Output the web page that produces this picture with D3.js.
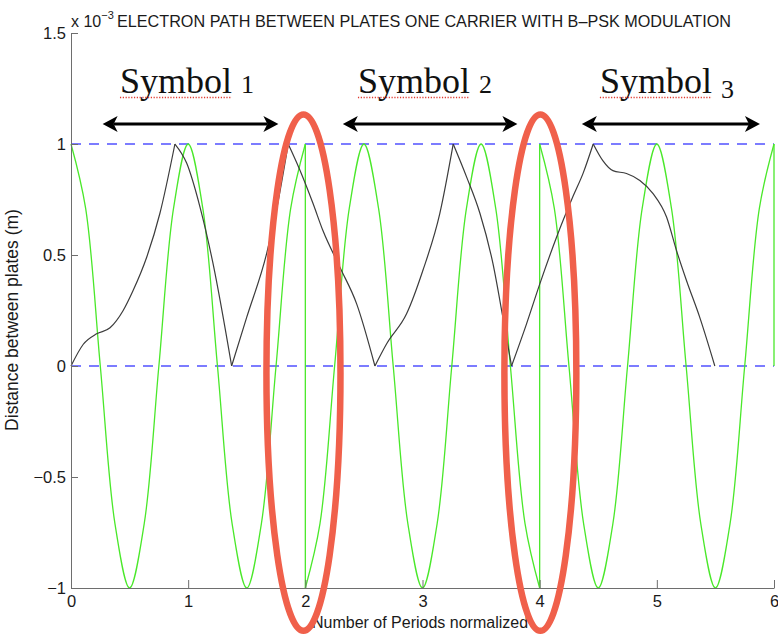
<!DOCTYPE html>
<html>
<head>
<meta charset="utf-8">
<script src="https://cdn.jsdelivr.net/npm/d3@7"></script>
<style>
  html, body { margin: 0; padding: 0; background: #fff; }
  svg { display: block; }
</style>
</head>
<body>
<svg id="chart" width="778" height="636"></svg>
<script>
// ---- data -------------------------------------------------------------
// Carrier sampled every 1/8 period; each symbol lasts two periods.
const carrierT1 = [0, 0.125, 0.25, 0.375, 0.5, 0.625, 0.75, 0.875, 1, 1.125, 1.25, 1.375, 1.5, 1.625, 1.75, 1.875, 2];
const carrierT2 = [2, 2.125, 2.25, 2.375, 2.5, 2.625, 2.75, 2.875, 3, 3.125, 3.25, 3.375, 3.5, 3.625, 3.75, 3.875, 4];
const carrierT3 = [4, 4.125, 4.25, 4.375, 4.5, 4.625, 4.75, 4.875, 5, 5.125, 5.25, 5.375, 5.5, 5.625, 5.75, 5.875, 6];
const carrierV1 = [1, 0.71, 0, -0.71, -1, -0.71, 0, 0.71, 1, 0.71, 0, -0.71, -1, -0.71, 0, 0.71, 1];
const carrierV2 = [-1, -0.71, 0, 0.71, 1, 0.71, 0, -0.71, -1, -0.71, 0, 0.71, 1, 0.71, 0, -0.71, -1];
const carrierV3 = [1, 0.71, 0, -0.71, -1, -0.71, 0, 0.71, 1, 0.71, 0, -0.71, -1, -0.71, 0, 0.71, 1];

// Phase jumps of the carrier (vertical steps)
const jumpT    = [2, 4, 6];
const jumpFrom = [1, -1, 1];
const jumpTo   = [-1, 1, 0];

// Electron position between the plates (x 10^-3 m)
const electronT = [0, 0.105, 0.219, 0.333, 0.444, 0.529, 0.646, 0.759, 0.887,
                   0.987, 1.101, 1.212, 1.371,
                   1.50, 1.67, 1.76, 1.854,
                   1.954, 2.065, 2.15, 2.295, 2.438, 2.594,
                   2.694, 2.864, 3.003, 3.148, 3.262,
                   3.376, 3.49, 3.601, 3.686, 3.76,
                   3.888, 4.002, 4.144, 4.283, 4.372, 4.457,
                   4.539, 4.625, 4.741, 4.855, 4.966, 5.083, 5.168, 5.253, 5.367, 5.495];
const electronY = [0, 0.098, 0.145, 0.172, 0.249, 0.339, 0.49, 0.688, 1.0,
                   0.914, 0.716, 0.462, 0,
                   0.22, 0.507, 0.72, 1.0,
                   0.882, 0.733, 0.61, 0.445, 0.28, 0,
                   0.10, 0.235, 0.43, 0.688, 1.0,
                   0.852, 0.688, 0.462, 0.219, 0,
                   0.19, 0.371, 0.58, 0.762, 0.87, 1.0,
                   0.925, 0.88, 0.867, 0.836, 0.778, 0.671, 0.52, 0.385, 0.218, 0];

// Plate positions
const plates = [0, 1];

// Axes
const xTicks = [0, 1, 2, 3, 4, 5, 6];
const yTicks = [-1, -0.5, 0, 0.5, 1, 1.5];
const yTickLabels = ["\u22121", "\u22120.5", "0", "0.5", "1", "1.5"];

// Symbol annotations
const symbolNames  = ["Symbol", "Symbol", "Symbol"];
const symbolDigits = ["1", "2", "3"];
const symbolLabelT = [0.418, 2.449, 4.514];
const symbolLabelY = 1.23;
const arrowFromT = [0.27, 2.32, 4.36];
const arrowToT   = [1.77, 3.81, 5.88];
const arrowY = 1.09;

// Highlighted phase transitions
const highlightT  = [1.984, 4.006];
const highlightRx = [0.316, 0.307];
const highlightCy = -0.03;
const highlightRy = 1.163;

// ---- drawing ----------------------------------------------------------
const svg = d3.select("#chart");
const x = d3.scaleLinear().domain([0, 6]).range([71, 774]);
const y = d3.scaleLinear().domain([-1, 1.5]).range([588, 33]);

const sans = "'Liberation Sans', Arial, Helvetica, sans-serif";
const axisColor = "#6e6e6e";

// plates (dashed)
svg.append("g").selectAll("line").data(plates).join("line")
  .attr("x1", x(0)).attr("x2", x(6))
  .attr("y1", d => y(d)).attr("y2", d => y(d))
  .attr("stroke", "#5252ff").attr("stroke-width", 1.3)
  .attr("stroke-dasharray", "10,8");

// carrier
const carrierLine = d3.line().x(d => x(d[0])).y(d => y(d[1])).curve(d3.curveCatmullRom.alpha(0.5));
const carrierSegments = [
  d3.zip(carrierT1, carrierV1),
  d3.zip(carrierT2, carrierV2),
  d3.zip(carrierT3, carrierV3)
];
const gCarrier = svg.append("g").attr("fill", "none").attr("stroke", "#4ae82a").attr("stroke-width", 1.3);
gCarrier.selectAll("path").data(carrierSegments).join("path").attr("d", carrierLine);
gCarrier.selectAll("line").data(d3.range(jumpT.length)).join("line")
  .attr("x1", i => x(jumpT[i])).attr("x2", i => x(jumpT[i]))
  .attr("y1", i => y(jumpFrom[i])).attr("y2", i => y(jumpTo[i]));

// electron path: smooth between bounces, sharp where it turns at a plate
const electron = d3.zip(electronT, electronY);
const runs = [];
let run = [electron[0]];
for (let i = 1; i < electron.length; i++) {
  run.push(electron[i]);
  const atPlate = i < electron.length - 1 && plates.includes(electron[i][1]);
  if (atPlate) { runs.push(run); run = [electron[i]]; }
}
runs.push(run);
svg.append("g").selectAll("path").data(runs).join("path")
  .attr("fill", "none").attr("stroke", "#3c3c3c").attr("stroke-width", 1.2)
  .attr("stroke-linejoin", "round")
  .attr("d", d3.line().x(d => x(d[0])).y(d => y(d[1])).curve(d3.curveMonotoneX));

// axes
const xAxis = d3.axisBottom(x).tickValues(xTicks).tickFormat(d3.format("d"))
  .tickSizeInner(-8).tickSizeOuter(0).tickPadding(7);
const gx = svg.append("g").attr("transform", `translate(0,${y(-1)})`).call(xAxis);
const yAxis = d3.axisLeft(y).tickValues(yTicks).tickFormat((d, i) => yTickLabels[i])
  .tickSizeInner(-7).tickSizeOuter(0).tickPadding(5);
const gy = svg.append("g").attr("transform", `translate(${x(0)},0)`).call(yAxis);
[gx, gy].forEach(g => {
  g.select(".domain").attr("stroke", axisColor);
  g.selectAll(".tick line").attr("stroke", axisColor);
  g.selectAll(".tick text").attr("fill", "#1a1a1a")
    .style("font-family", sans).style("font-size", "16.5px");
});

// axis titles
svg.append("text").attr("x", 420).attr("y", 628).attr("text-anchor", "middle")
  .style("font-family", sans).style("font-size", "16px").attr("fill", "#1a1a1a")
  .text("Number of Periods normalized");
svg.append("text").attr("transform", "translate(18,320) rotate(-90)").attr("text-anchor", "middle")
  .style("font-family", sans).style("font-size", "17.5px").attr("fill", "#1a1a1a")
  .text("Distance between plates (m)");

// exponent and title
const expo = svg.append("text").attr("x", x(0)).attr("y", 27)
  .style("font-family", sans).style("font-size", "16px").attr("fill", "#1a1a1a");
expo.append("tspan").text("x 10");
expo.append("tspan").attr("dy", -8).style("font-size", "11px").text("\u22123");
svg.append("text").attr("x", 117).attr("y", 26.5)
  .style("font-family", sans).style("font-size", "16.2px").attr("fill", "#1a1a1a")
  .text("ELECTRON PATH BETWEEN PLATES ONE CARRIER WITH B\u2013PSK MODULATION");

// symbol labels with spell-check underline
const serif = "'Liberation Serif', 'Times New Roman', serif";
symbolNames.forEach((name, i) => {
  const t = svg.append("text").attr("x", x(symbolLabelT[i])).attr("y", y(symbolLabelY))
    .style("font-family", serif).style("font-size", "36px").attr("fill", "#111");
  const word = t.append("tspan").text(name);
  t.append("tspan").style("font-size", "26px").attr("dx", 9)
    .attr("dy", symbolDigits[i] === "3" ? 5 : 0)
    .text(symbolDigits[i]);
  const w = word.node().getComputedTextLength();
  svg.append("line")
    .attr("x1", x(symbolLabelT[i])).attr("x2", x(symbolLabelT[i]) + w)
    .attr("y1", y(symbolLabelY) + 4.5).attr("y2", y(symbolLabelY) + 4.5)
    .attr("stroke", "#e0392e").attr("stroke-width", 1.4).attr("stroke-dasharray", "1.2,1.6");
});

// double-headed arrows spanning each symbol
const headLen = 15, headHalf = 8, notch = 4;
const gArrows = svg.append("g");
arrowFromT.forEach((t0, i) => {
  const x0 = x(t0), x1 = x(arrowToT[i]), yy = y(arrowY);
  gArrows.append("line").attr("x1", x0 + headLen - notch).attr("x2", x1 - headLen + notch)
    .attr("y1", yy).attr("y2", yy).attr("stroke", "#000").attr("stroke-width", 3);
  gArrows.append("path").attr("fill", "#000")
    .attr("d", `M${x0},${yy} L${x0 + headLen},${yy - headHalf} L${x0 + headLen - notch},${yy} L${x0 + headLen},${yy + headHalf} Z`);
  gArrows.append("path").attr("fill", "#000")
    .attr("d", `M${x1},${yy} L${x1 - headLen},${yy - headHalf} L${x1 - headLen + notch},${yy} L${x1 - headLen},${yy + headHalf} Z`);
});

// highlight rings around the phase transitions
svg.append("g").selectAll("ellipse").data(highlightT).join("ellipse")
  .attr("cx", d => x(d))
  .attr("cy", y(highlightCy))
  .attr("rx", (d, i) => x(d + highlightRx[i]) - x(d))
  .attr("ry", y(highlightCy) - y(highlightCy + highlightRy))
  .attr("fill", "none").attr("stroke", "#f0604b").attr("stroke-width", 6.5);
</script>
</body>
</html>
